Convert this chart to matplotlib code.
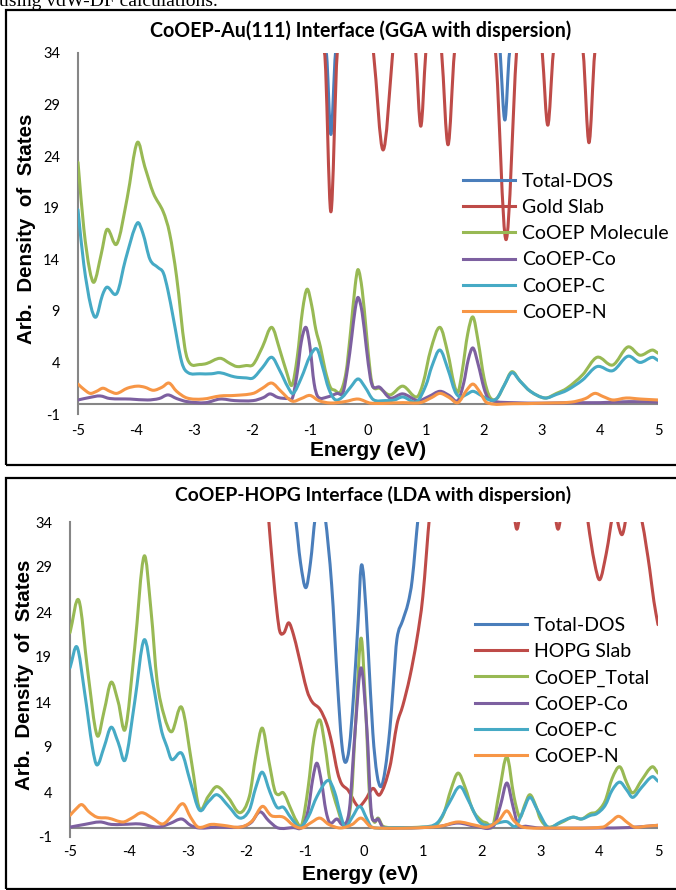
import matplotlib
matplotlib.use("Agg")
import matplotlib.pyplot as plt
import numpy as np
from matplotlib.path import Path
from matplotlib.patches import PathPatch, Rectangle
from matplotlib.lines import Line2D

plt.rcParams["axes.unicode_minus"] = False

# ---------------- CoOEP-Au(111) (top panel) ----------------
au_total_e = [-5.0, -2.5, -0.72, -0.64, -0.56, -0.2, 0.5, 2.0, 2.28, 2.36, 2.44, 3.0, 5.0]
au_total_y = [60, 60, 34, 26.1, 34, 50, 60, 60, 34, 27.5, 34, 50, 60]

au_gold_e = [-5.0, -2.5, -0.75, -0.64, -0.53, -0.2, 0.095, 0.26, 0.425, 0.62, 0.824, 0.91,
             0.996, 1.13, 1.27, 1.38, 1.49, 1.85, 2.2, 2.38, 2.56, 2.78, 3.005, 3.1, 3.195,
             3.45, 3.71, 3.81, 3.91, 4.4, 5.0]
au_gold_y = [60, 60, 34, 18.6, 34, 48, 34, 24.6, 34, 48, 34, 26.9,
             34, 42, 34, 25.1, 34, 50, 34, 15.9, 34, 48, 34, 27.0, 34,
             44, 34, 25.3, 34, 55, 60]

au_mol_e = [-5.0, -4.9, -4.8, -4.72, -4.6, -4.5, -4.33, -4.15, -3.98, -3.85, -3.7, -3.53,
            -3.42, -3.3, -3.16, -3.07, -2.9, -2.78, -2.55, -2.38, -2.26, -2.1, -1.98, -1.82,
            -1.66, -1.52, -1.4, -1.31, -1.22, -1.13, -1.05, -0.97, -0.9, -0.82, -0.74, -0.65,
            -0.57, -0.48, -0.38, -0.3, -0.22, -0.17, -0.1, -0.03, 0.04, 0.09, 0.2, 0.38, 0.6,
            0.84, 0.95, 1.08, 1.24, 1.38, 1.48, 1.55, 1.62, 1.72, 1.81, 1.9, 2.0, 2.1, 2.22,
            2.35, 2.48, 2.62, 2.8, 3.05, 3.25, 3.43, 3.7, 3.95, 4.22, 4.48, 4.69, 4.9, 5.0]
au_mol_y = [23.4, 17.0, 13.0, 11.8, 14.5, 16.9, 15.5, 20.0, 25.3, 23.0, 20.4, 18.6,
            16.5, 12.3, 5.5, 3.9, 3.8, 3.9, 4.4, 3.9, 3.6, 3.7, 3.8, 5.5,
            7.4, 5.2, 3.0, 1.8, 4.5, 9.0, 11.1, 9.5, 7.2, 5.5, 3.3, 1.6,
            1.3, 1.1, 3.0, 7.0, 11.5, 13.0, 11.0, 7.0, 3.0, 1.6, 1.5, 0.85, 1.7,
            0.65, 2.0, 5.2, 7.4, 4.8, 2.0, 1.1, 3.0, 6.8, 8.4, 6.0, 2.5, 0.65, 0.5,
            1.8, 3.1, 2.2, 1.2, 0.55, 1.0, 1.5, 2.8, 4.5, 3.75, 5.5, 4.7, 5.2, 4.9]

au_co_e = [-5.0, -4.8, -4.62, -4.45, -4.1, -3.8, -3.6, -3.45, -3.3, -3.12, -2.8, -2.55, -2.3,
           -1.98, -1.8, -1.69, -1.55, -1.38, -1.3, -1.22, -1.15, -1.07, -1.0, -0.93, -0.86,
           -0.7, -0.53, -0.43, -0.35, -0.28, -0.22, -0.17, -0.1, -0.03, 0.04, 0.09, 0.2, 0.38,
           0.6, 0.86, 1.05, 1.24, 1.4, 1.55, 1.65, 1.73, 1.81, 1.9, 2.0, 2.07, 2.2, 2.5, 3.0,
           3.5, 4.0, 4.5, 5.0]
au_co_y = [0.36, 0.6, 0.75, 0.5, 0.45, 0.36, 0.5, 0.85, 0.5, 0.2, 0.1, 0.45, 0.3,
           0.3, 0.6, 0.95, 0.6, 0.5, 0.6, 3.0, 6.0, 7.4, 5.5, 2.0, 0.65,
           0.65, 1.0, 1.1, 3.5, 6.5, 9.2, 10.3, 8.8, 5.5, 2.5, 1.6, 1.6, 0.55,
           0.95, 0.3, 0.7, 1.2, 0.8, 0.3, 2.0, 4.3, 5.4, 3.8, 1.5, 0.55, 0.2, 0.1, 0.05,
           0.1, 0.1, 0.2, 0.15]

au_c_e = [-5.0, -4.9, -4.78, -4.69, -4.58, -4.5, -4.33, -4.18, -3.98, -3.88, -3.76, -3.62,
          -3.53, -3.45, -3.36, -3.21, -3.1, -2.9, -2.7, -2.55, -2.3, -2.1, -1.98, -1.82,
          -1.66, -1.52, -1.38, -1.29, -1.15, -1.0, -0.88, -0.78, -0.68, -0.57, -0.45, -0.3,
          -0.17, -0.05, 0.09, 0.3, 0.45, 0.6, 0.84, 1.0, 1.1, 1.24, 1.38, 1.5, 1.59, 1.7,
          1.81, 1.95, 2.1, 2.22, 2.35, 2.48, 2.62, 2.8, 3.05, 3.25, 3.43, 3.7, 3.95, 4.22,
          4.48, 4.69, 4.9, 5.0]
au_c_y = [18.8, 13.5, 9.5, 8.4, 10.5, 11.3, 10.7, 14.0, 17.5, 16.5, 14.0, 13.2,
          12.7, 11.0, 8.4, 4.0, 3.0, 2.9, 2.9, 3.0, 2.6, 2.5, 2.5, 3.5,
          4.5, 3.2, 1.6, 1.0, 2.5, 4.6, 5.3, 3.5, 1.5, 0.4, 0.6, 1.6,
          2.4, 1.6, 0.4, 0.3, 0.35, 0.65, 0.2, 1.8, 3.6, 5.2, 3.3, 1.2, 0.65, 0.9,
          1.2, 0.8, 0.36, 0.5, 1.8, 3.0, 2.2, 1.2, 0.55, 0.9, 1.3, 2.3, 3.6, 3.2,
          4.6, 4.0, 4.5, 4.2]

au_n_e = [-5.0, -4.9, -4.79, -4.68, -4.57, -4.45, -4.33, -4.15, -3.98, -3.85, -3.7, -3.55,
          -3.43, -3.3, -3.12, -2.85, -2.55, -2.3, -1.98, -1.82, -1.66, -1.5, -1.31, -1.15,
          -1.0, -0.85, -0.65, -0.4, -0.17, 0.05, 0.6, 0.9, 1.1, 1.24, 1.4, 1.55, 1.7, 1.81,
          1.92, 2.05, 2.5, 3.0, 3.5, 3.75, 3.91, 4.05, 4.22, 4.45, 4.7, 5.0]
au_n_y = [1.9, 1.4, 1.0, 1.2, 1.5, 1.2, 1.0, 1.5, 1.7, 1.6, 1.3, 1.6,
          2.0, 1.2, 0.55, 0.45, 0.75, 0.8, 1.0, 1.5, 2.0, 1.2, 0.25, 0.5,
          0.8, 0.3, 0.07, 0.2, 0.45, 0.05, 0.1, 0.1, 0.6, 1.0, 0.6, 0.1, 1.3, 1.9,
          1.2, 0.1, 0.0, 0.05, 0.15, 0.5, 1.0, 0.7, 0.36, 0.55, 0.45, 0.36]

# ---------------- CoOEP-HOPG (bottom panel) ----------------
hopg_total_e = [-5.0, -2.0, -1.17, -1.08, -0.99, -0.91, -0.83, -0.745, -0.66, -0.55, -0.45,
                -0.38, -0.32, -0.25, -0.18, -0.1, -0.05, 0.0, 0.07, 0.15, 0.22, 0.29, 0.36,
                0.44, 0.5, 0.56, 0.66, 0.75, 0.82, 0.92, 1.1, 3.0, 5.0]
hopg_total_y = [60, 60, 34.5, 29.5, 26.7, 29.5, 34.5, 37, 34.5, 27.0, 16.0,
                9.5, 7.3, 9.0, 14.5, 23.0, 29.0, 27.5, 20.0, 10.6, 6.0, 4.6, 6.5,
                11.0, 16.0, 21.0, 23.1, 25.0, 27.6, 34.5, 45, 60, 60]

hopg_slab_e = [-5.0, -2.2, -1.75, -1.63, -1.55, -1.48, -1.43, -1.36, -1.28, -1.2, -1.12,
               -0.97, -0.88, -0.75, -0.63, -0.55, -0.45, -0.38, -0.27, -0.1, 0.02, 0.15,
               0.27, 0.44, 0.56, 0.66, 0.78, 0.9, 1.0, 1.12, 1.3, 2.0, 2.45, 2.6, 2.75, 3.0,
               3.15, 3.3, 3.45, 3.6, 3.81, 3.92, 4.01, 4.12, 4.25, 4.39, 4.5, 4.6, 4.73, 4.8,
               4.86, 4.93, 5.0]
hopg_slab_y = [60, 60, 45, 35, 28.7, 24.0, 21.8, 21.7, 22.8, 21.5, 19.4,
               15.3, 14.0, 13.2, 11.5, 9.5, 6.2, 4.9, 4.2, 2.4, 3.1, 4.4,
               3.7, 6.8, 11.5, 13.6, 16.8, 21.0, 25.7, 35, 45, 45, 42, 33.2, 42, 45,
               42, 33.2, 42, 45, 34, 29.5, 27.6, 30.5, 35, 32.6, 36, 37, 34, 31.3,
               28.7, 25.2, 22.6]

hopg_mol_e = [-5.0, -4.85, -4.7, -4.54, -4.42, -4.3, -4.18, -4.06, -3.9, -3.74, -3.62, -3.52,
              -3.4, -3.27, -3.1, -2.93, -2.8, -2.65, -2.5, -2.3, -2.11, -1.95, -1.84, -1.73,
              -1.62, -1.52, -1.46, -1.37, -1.25, -1.15, -1.06, -0.95, -0.85, -0.75, -0.66,
              -0.58, -0.45, -0.32, -0.22, -0.14, -0.05, 0.03, 0.1, 0.17, 0.24, 0.32, 0.6, 1.0,
              1.2, 1.35, 1.48, 1.6, 1.72, 1.85, 2.0, 2.09, 2.19, 2.3, 2.43, 2.55, 2.65, 2.73,
              2.82, 2.92, 3.0, 3.13, 3.35, 3.55, 3.7, 3.85, 3.96, 4.1, 4.22, 4.35, 4.47, 4.57,
              4.72, 4.9, 5.0]
hopg_mol_y = [21.7, 25.3, 17.5, 10.3, 13.0, 16.2, 14.0, 11.0, 20.0, 30.2, 24.0, 16.4,
              12.5, 10.7, 13.4, 7.2, 2.2, 3.5, 4.6, 3.3, 1.7, 3.5, 8.0, 11.1,
              7.5, 4.2, 3.7, 3.9, 2.2, 0.8, 0.33, 4.5, 10.0, 12.0, 9.0,
              5.3, 2.2, 0.1, 3.0, 12.0, 21.1, 13.0, 3.0, 0.7, 1.1, 0.2, 0.05, 0.1,
              0.2, 1.5, 4.3, 6.1, 4.5, 2.0, 0.8, 0.55, 0.2, 4.0, 7.9, 3.5, 1.2, 2.5,
              3.7, 2.5, 1.0, 0.1, 0.6, 1.2, 1.0, 1.6, 1.8, 3.0, 5.5, 6.8, 5.0, 3.9,
              5.3, 6.8, 6.1]

hopg_co_e = [-5.0, -4.75, -4.49, -4.3, -4.1, -3.81, -3.5, -3.3, -3.1, -2.95, -2.8, -2.5, -2.1,
             -1.92, -1.77, -1.62, -1.46, -1.2, -1.05, -0.95, -0.87, -0.8, -0.72, -0.65, -0.58,
             -0.46, -0.36, -0.25, -0.15, -0.05, 0.05, 0.12, 0.18, 0.24, 0.32, 0.6, 1.0, 1.3,
             1.6, 1.9, 2.2, 2.32, 2.43, 2.53, 2.62, 2.75, 3.0, 4.0, 4.5, 5.0]
hopg_co_y = [0.1, 0.4, 0.67, 0.4, 0.4, 0.45, 0.1, 0.5, 1.0, 0.3, 0.0, 0.1, 0.1,
             0.6, 1.8, 0.8, 0.0, 0.05, 0.1, 2.0, 5.5, 7.2, 5.0, 2.0, 0.55,
             1.0, 0.4, 2.0, 10.9, 17.8, 10.9, 2.0, 0.8, 1.0, 0.1, 0.0, 0.05, 0.2,
             0.55, 0.2, 0.2, 2.5, 5.0, 2.5, 0.33, 0.2, 0.0, 0.0, 0.05, 0.3]

hopg_c_e = [-5.0, -4.88, -4.75, -4.62, -4.54, -4.42, -4.3, -4.18, -4.06, -3.9, -3.74, -3.6,
            -3.45, -3.35, -3.27, -3.1, -2.96, -2.8, -2.65, -2.5, -2.3, -2.11, -1.95, -1.84,
            -1.73, -1.6, -1.48, -1.37, -1.25, -1.09, -0.95, -0.8, -0.61, -0.5, -0.4, -0.32,
            -0.2, -0.07, 0.05, 0.13, 0.5, 1.0, 1.25, 1.45, 1.63, 1.78, 1.95, 2.09, 2.3, 2.43,
            2.58, 2.7, 2.82, 2.95, 3.13, 3.35, 3.55, 3.7, 3.85, 3.96, 4.1, 4.22, 4.35, 4.47,
            4.57, 4.72, 4.9, 5.0]
hopg_c_y = [17.8, 20.1, 15.0, 9.0, 7.0, 9.0, 11.2, 9.5, 7.6, 14.0, 20.9, 16.5,
            11.0, 9.0, 7.6, 8.3, 5.3, 2.0, 2.9, 3.7, 2.4, 1.1, 2.0, 4.5,
            6.2, 4.0, 2.3, 2.3, 1.2, 0.1, 1.2, 3.5, 5.3, 4.0, 1.5, 0.1,
            1.2, 2.4, 1.0, 0.1, 0.05, 0.1, 0.6, 2.8, 4.6, 3.0, 0.8, 0.3, 0.6, 0.7,
            0.2, 1.8, 3.4, 2.0, 0.1, 0.7, 1.2, 1.0, 1.4, 1.6, 2.5, 4.2, 5.1, 4.2,
            3.4, 4.5, 5.7, 5.2]

hopg_n_e = [-5.0, -4.9, -4.8, -4.68, -4.54, -4.35, -4.1, -3.95, -3.78, -3.6, -3.42, -3.25,
            -3.08, -2.95, -2.82, -2.6, -2.4, -2.1, -1.9, -1.73, -1.6, -1.55, -1.37, -1.2,
            -1.06, -0.9, -0.75, -0.6, -0.4, -0.2, -0.05, 0.1, 0.2, 0.8, 1.3, 1.6, 1.9, 2.1,
            2.3, 2.43, 2.55, 2.7, 3.2, 4.06, 4.2, 4.33, 4.48, 4.6, 4.8, 5.0]
hopg_n_y = [1.4, 2.1, 2.6, 1.8, 1.2, 1.1, 0.67, 1.1, 1.7, 1.1, 0.45, 1.5,
            2.7, 1.2, 0.1, 0.4, 0.3, 0.1, 0.8, 2.4, 1.5, 1.3, 1.2, 0.3,
            0.0, 0.6, 1.1, 0.4, 0.0, 0.4, 1.1, 0.2, 0.0, 0.0, 0.2, 0.67, 0.3, 0.1,
            0.9, 1.9, 0.8, 0.1, 0.0, 0.1, 0.7, 1.3, 0.6, 0.1, 0.2, 0.3]

colors = ["#4A7EBB", "#BE4B48", "#98B954", "#7D60A0", "#46AAC5", "#F79646"]
au_labels = ["Total-DOS", "Gold Slab", "CoOEP Molecule", "CoOEP-Co", "CoOEP-C", "CoOEP-N"]
hopg_labels = ["Total-DOS", "HOPG Slab", "CoOEP_Total", "CoOEP-Co", "CoOEP-C", "CoOEP-N"]

au_series = [(au_total_e, au_total_y), (au_gold_e, au_gold_y), (au_mol_e, au_mol_y),
             (au_co_e, au_co_y), (au_c_e, au_c_y), (au_n_e, au_n_y)]
hopg_series = [(hopg_total_e, hopg_total_y), (hopg_slab_e, hopg_slab_y),
               (hopg_mol_e, hopg_mol_y), (hopg_co_e, hopg_co_y),
               (hopg_c_e, hopg_c_y), (hopg_n_e, hopg_n_y)]

W, H = 676, 890
TXT = ["Lato", "DejaVu Sans"]
ARIAL = ["Liberation Sans", "DejaVu Sans"]


def smooth_path(e, v):
    # smoothed line (like a spreadsheet "smoothed line" chart) as cubic Bezier
    x = np.asarray(e, float)
    y = np.asarray(v, float)
    m = np.empty_like(y)
    m[1:-1] = (y[2:] - y[:-2]) / (x[2:] - x[:-2])
    m[0] = (y[1] - y[0]) / (x[1] - x[0])
    m[-1] = (y[-1] - y[-2]) / (x[-1] - x[-2])
    verts = [(x[0], y[0])]
    codes = [Path.MOVETO]
    for i in range(len(x) - 1):
        d = (x[i + 1] - x[i]) / 3.0
        verts += [(x[i] + d, y[i] + m[i] * d),
                  (x[i + 1] - d, y[i + 1] - m[i + 1] * d),
                  (x[i + 1], y[i + 1])]
        codes += [Path.CURVE4] * 3
    return Path(verts, codes)


def px_axes(left, right, top, bottom):
    return fig.add_axes([left / W, 1 - bottom / H, (right - left) / W, (bottom - top) / H])


def draw_panel(ax, series, labels, xpad, ypad, leg_x, leg_top):
    ax.set_xlim(-5, 5)
    ax.set_ylim(-1, 34)
    for s in ax.spines.values():
        s.set_visible(False)
    ax.axhline(0, color="#868686", lw=1.5, zorder=1)
    ax.axvline(-5, color="#868686", lw=1.5, zorder=1, clip_on=False)
    for (e, v), c in zip(series, colors):
        ax.add_patch(PathPatch(smooth_path(e, v), fill=False, edgecolor=c, lw=2.2,
                               joinstyle="round", capstyle="round", zorder=2))
    ax.set_xticks(range(-5, 6))
    ax.set_yticks(range(-1, 35, 5))
    ax.tick_params(length=0, labelsize=10.5)
    ax.tick_params(axis="x", pad=xpad)
    ax.tick_params(axis="y", pad=ypad)
    for t in ax.get_xticklabels() + ax.get_yticklabels():
        t.set_family(TXT)
    handles = [Line2D([], [], color=c, lw=2.2) for c in colors]
    ax.legend(handles, labels, loc="upper left",
              bbox_to_anchor=(leg_x / W, 1 - leg_top / H), bbox_transform=fig.transFigure,
              frameon=False, prop={"family": TXT, "size": 14}, handlelength=2.67,
              handletextpad=0.36, labelspacing=0.47, borderpad=0, borderaxespad=0)


fig = plt.figure(figsize=(W / 100, H / 100), dpi=100)

# frames around the two charts
fig.add_artist(Rectangle((6 / W, 1 - 465 / H), 680 / W, 455 / H, transform=fig.transFigure,
                         fill=False, edgecolor="black", lw=1.6))
fig.add_artist(Rectangle((6 / W, 1 - 889 / H), 680 / W, 411 / H, transform=fig.transFigure,
                         fill=False, edgecolor="black", lw=1.6))

# caption text cut off at the top of the page (as in the source page)
fig.text(-1 / W, 1 - 6 / H, "using vdW-DF calculations.", family=["Liberation Serif"],
         fontsize=14, va="baseline", ha="left")

ax1 = px_axes(78, 658, 53, 414)
draw_panel(ax1, au_series, au_labels, 7, 13, 463, 173)
ax2 = px_axes(70, 658, 522, 837)
draw_panel(ax2, hopg_series, hopg_labels, 6, 13, 475, 617)

fig.text(361 / W, 1 - 31 / H, "CoOEP-Au(111) Interface (GGA with dispersion)", family=TXT,
         fontweight="bold", fontsize=14.1, ha="center", va="center")
fig.text(373 / W, 1 - 495 / H, "CoOEP-HOPG Interface (LDA with dispersion)", family=TXT,
         fontweight="bold", fontsize=13.9, ha="center", va="center")
fig.text(368 / W, 1 - 451 / H, "Energy (eV)", family=ARIAL, fontweight="bold",
         fontsize=15, ha="center", va="center")
fig.text(360 / W, 1 - 875 / H, "Energy (eV)", family=ARIAL, fontweight="bold",
         fontsize=15, ha="center", va="center")
fig.text(27 / W, 1 - 229 / H, "Arb.  Density  of  States", family=ARIAL, fontweight="bold",
         fontsize=14.8, ha="center", va="center", rotation=90)
fig.text(25 / W, 1 - 675 / H, "Arb.  Density  of  States", family=ARIAL, fontweight="bold",
         fontsize=14.8, ha="center", va="center", rotation=90)

fig.savefig("out.png", dpi=100)
